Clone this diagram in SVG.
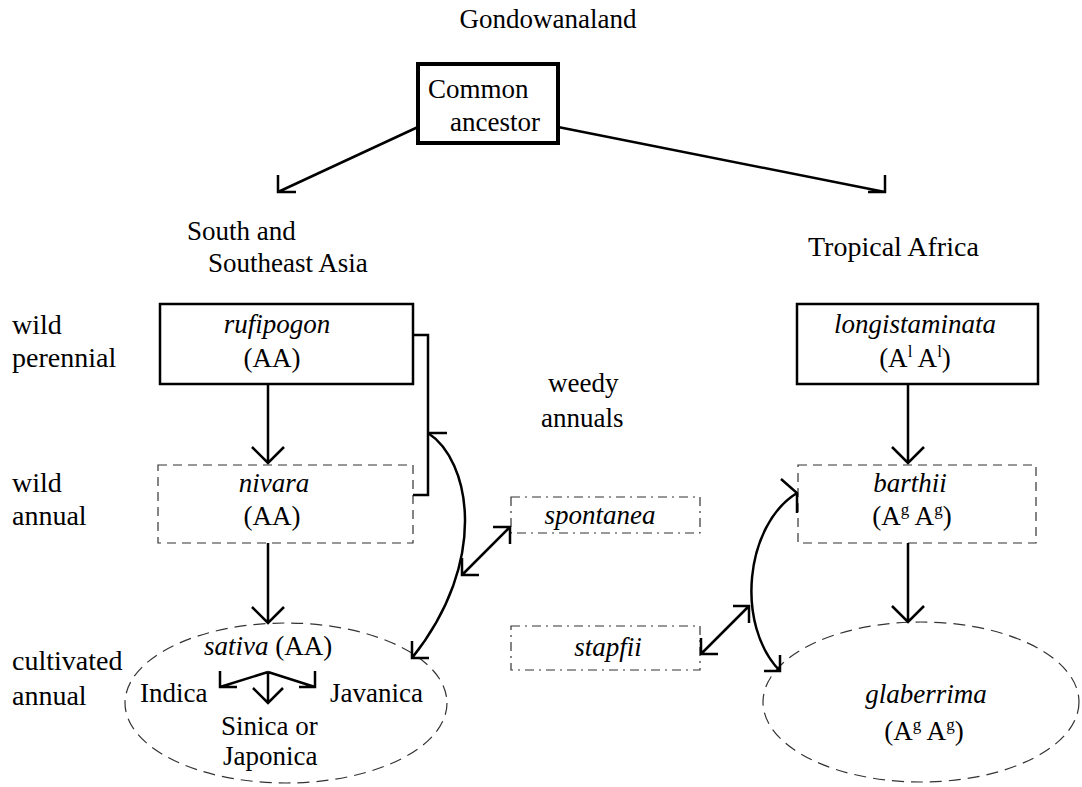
<svg xmlns="http://www.w3.org/2000/svg" width="1082" height="787" viewBox="0 0 1082 787" font-family="'Liberation Serif', 'DejaVu Serif', serif">
<style>
text{font-family:"Liberation Serif","DejaVu Serif",serif;font-size:27px;fill:#000}
.it{font-style:italic}
.m{text-anchor:middle}
.sup{font-size:17px}
.solid{fill:none;stroke:#000;stroke-width:2.5}
.dash{fill:none;stroke:#333;stroke-width:1.2;stroke-dasharray:9,6}
.edash{fill:none;stroke:#333;stroke-width:1.2;stroke-dasharray:12,7}
.dd{fill:none;stroke:#333;stroke-width:1.2;stroke-dasharray:9,5,2,5}
.ln{fill:none;stroke:#000;stroke-width:2.5}
</style>
<rect width="1082" height="787" fill="#fff"/>
<g id="labels">
<text class="m" x="548" y="28">Gondowanaland</text>
<text x="187" y="240">South and</text>
<text x="208" y="272">Southeast Asia</text>
<text x="808" y="256" style="font-size:28px">Tropical Africa</text>
<text x="12" y="334" style="font-size:28px">wild</text>
<text x="12" y="367" style="font-size:28px">perennial</text>
<text x="12" y="492" style="font-size:28px">wild</text>
<text x="12" y="525" style="font-size:28px">annual</text>
<text x="12" y="670" style="font-size:28px">cultivated</text>
<text x="12" y="705" style="font-size:28px">annual</text>
<text x="548" y="392">weedy</text>
<text x="541" y="427">annuals</text>
</g>
<g id="ancestor">
<rect x="418" y="64" width="140" height="79" fill="none" stroke="#000" stroke-width="4"/>
<text x="428" y="98">Common</text>
<text x="450" y="131">ancestor</text>
</g>
<g id="rufipogon">
<rect class="solid" x="160" y="304" width="253" height="80"/>
<text class="m it" x="277" y="333">rufipogon</text>
<text class="m" x="272" y="367">(AA)</text>
</g>
<g id="nivara">
<rect class="dash" x="158" y="465" width="255" height="78"/>
<text class="m it" x="274" y="492">nivara</text>
<text class="m" x="272" y="525">(AA)</text>
</g>
<g id="sativa">
<ellipse class="edash" cx="286" cy="703" rx="161" ry="80"/>
<text x="204" y="655"><tspan class="it">sativa</tspan> (AA)</text>
<text x="140" y="702">Indica</text>
<text x="330" y="702">Javanica</text>
<text x="221" y="735">Sinica or</text>
<text x="223" y="765">Japonica</text>
</g>
<g id="longistaminata">
<rect class="solid" x="797" y="304" width="241" height="80"/>
<text class="m it" x="915" y="333">longistaminata</text>
<text class="m" x="915" y="367">(A<tspan class="sup" dy="-10">l</tspan><tspan dy="10"> A</tspan><tspan class="sup" dy="-10">l</tspan><tspan dy="10">)</tspan></text>
</g>
<g id="barthii">
<rect class="dash" x="798" y="465" width="238" height="78"/>
<text class="m it" x="910" y="492">barthii</text>
<text class="m" x="912" y="525">(A<tspan class="sup" dy="-10">g</tspan><tspan dy="10"> A</tspan><tspan class="sup" dy="-10">g</tspan><tspan dy="10">)</tspan></text>
</g>
<g id="glaberrima">
<ellipse class="edash" cx="921" cy="702" rx="158" ry="80"/>
<text class="m it" x="926" y="703">glaberrima</text>
<text class="m" x="924" y="740">(A<tspan class="sup" dy="-10">g</tspan><tspan dy="10"> A</tspan><tspan class="sup" dy="-10">g</tspan><tspan dy="10">)</tspan></text>
</g>
<g id="spontanea">
<rect class="dd" x="511" y="497" width="189" height="36"/>
<text class="m it" x="600" y="524">spontanea</text>
</g>
<g id="stapfii">
<rect class="dd" x="511" y="626" width="189" height="44"/>
<text class="m it" x="608" y="656">stapfii</text>
</g>
<g id="connectors" class="ln">
<path d="M418,127 L278,192 M278,175 V192 H296"/>
<path d="M558,127 L885,192 M885,175 V192 H868"/>
<path d="M268,384 V463 M252,447 L268,463 L284,447"/>
<path d="M268,543 V623 M252,607 L268,623 L284,607"/>
<path d="M908,384 V463 M892,447 L908,463 L924,447"/>
<path d="M908,543 V622 M892,606 L908,622 L924,606"/>
<path d="M413,335 H428 V495 H413"/>
<path d="M428,433 H447"/>
<path d="M428,433 C470,460 490,560 412,658 M412,641 V658 H429"/>
<path d="M462,575 L510,527 M493,527 H510 V544 M479,575 H462 V558"/>
<path d="M797,493 C745,525 735,625 780,671 M781,479 L797,493 V513 M764,671 H780 V655"/>
<path d="M701,654 L749,606 M701,638 V654 H718 M733,606 H749 V623"/>
<path d="M268,672 L220,687 M268,672 L315,687 M268,672 V703 M220,671 V687 H237 M315,671 V687 H299 M253,688 L268,703 L283,688"/>
</g>
</svg>
